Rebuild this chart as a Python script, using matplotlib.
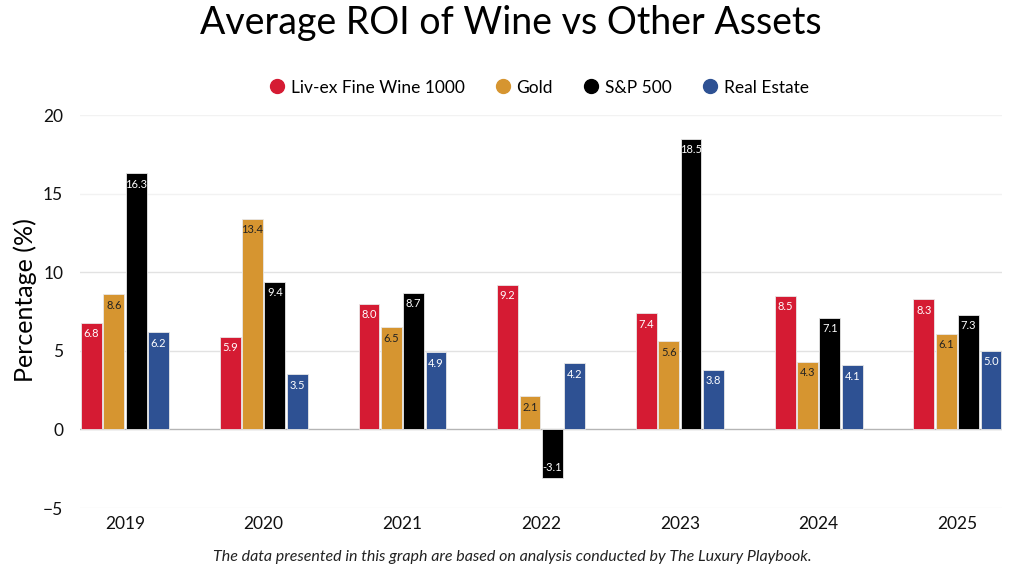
import numpy as np
import matplotlib.pyplot as plt
from matplotlib import rcParams
from matplotlib.lines import Line2D

rcParams['font.family'] = ['Lato', 'DejaVu Sans']

years = ["2019", "2020", "2021", "2022", "2023", "2024", "2025"]
series_names = ["Liv-ex Fine Wine 1000", "Gold", "S&P 500", "Real Estate"]
wine = [6.8, 5.9, 8.0, 9.2, 7.4, 8.5, 8.3]
gold = [8.6, 13.4, 6.5, 2.1, 5.6, 4.3, 6.1]
sp500 = [16.3, 9.4, 8.7, -3.1, 18.5, 7.1, 7.3]
real_estate = [6.2, 3.5, 4.9, 4.2, 3.8, 4.1, 5.0]
yticks = [-5, 0, 5, 10, 15, 20]

colors = ["#D51B33", "#D69530", "#000000", "#2E5193"]
text_colors = ["white", "#222222", "white", "white"]

fig = plt.figure(figsize=(10.24, 5.76), dpi=100)
ax = fig.add_axes([0.078, 0.118, 0.901, 0.682])

x = np.arange(len(years))
width = 0.150
step = 0.161
all_series = [wine, gold, sp500, real_estate]

# barres groupées par année, valeur écrite en haut de chaque barre
for i, (vals, c, tc) in enumerate(zip(all_series, colors, text_colors)):
    pos = x + (i - 1.5) * step
    ax.bar(pos, vals, width, color=c, edgecolor="#e8e8e8", linewidth=0.6, zorder=3)
    for px, v in zip(pos, vals):
        if v >= 0:
            ax.text(px, v - 0.35, f"{v:.1f}", ha="center", va="top", fontsize=8,
                    color=tc, zorder=4)
        else:
            ax.text(px, v + 0.3, f"{v:.1f}", ha="center", va="bottom", fontsize=8,
                    color=tc, zorder=4)

ax.set_xlim(-0.325, 6.325)
ax.set_ylim(-5, 20)
ax.set_yticks(yticks)
ax.set_xticks(x)
ax.set_xticklabels(years)
ax.tick_params(axis="both", length=0, labelsize=12.5, colors="#111111")
ax.tick_params(axis="y", pad=12)
ax.tick_params(axis="x", pad=6)
for s in ax.spines.values():
    s.set_visible(False)
for yv in [5, 10]:
    ax.axhline(yv, color="#e2e2e2", linewidth=1, zorder=1)
for yv in [-5, 15, 20]:
    ax.axhline(yv, color="#f2f2f2", linewidth=1, zorder=1)
ax.axhline(0, color="#b5b5b5", linewidth=1, zorder=2)

ax.set_ylabel("Percentage (%)", fontsize=18)
ax.yaxis.set_label_coords(-0.047, 0.53)

fig.text(0.499, 0.96, "Average ROI of Wine vs Other Assets", ha="center", va="center",
         fontsize=27)

handles = [Line2D([0], [0], marker="o", linestyle="", markersize=10,
                  markerfacecolor=c, markeredgecolor=c) for c in colors]
fig.legend(handles, series_names, loc="center", bbox_to_anchor=(0.525, 0.848),
           ncol=4, frameon=False, fontsize=12.5, handletextpad=0.2, columnspacing=1.6,
           handlelength=1.2)

fig.text(0.5, 0.033, "The data presented in this graph are based on analysis conducted by The Luxury Playbook.",
         ha="center", va="center", fontsize=11.5, style="italic", color="#222222")

fig.savefig("out.png", dpi=100)
